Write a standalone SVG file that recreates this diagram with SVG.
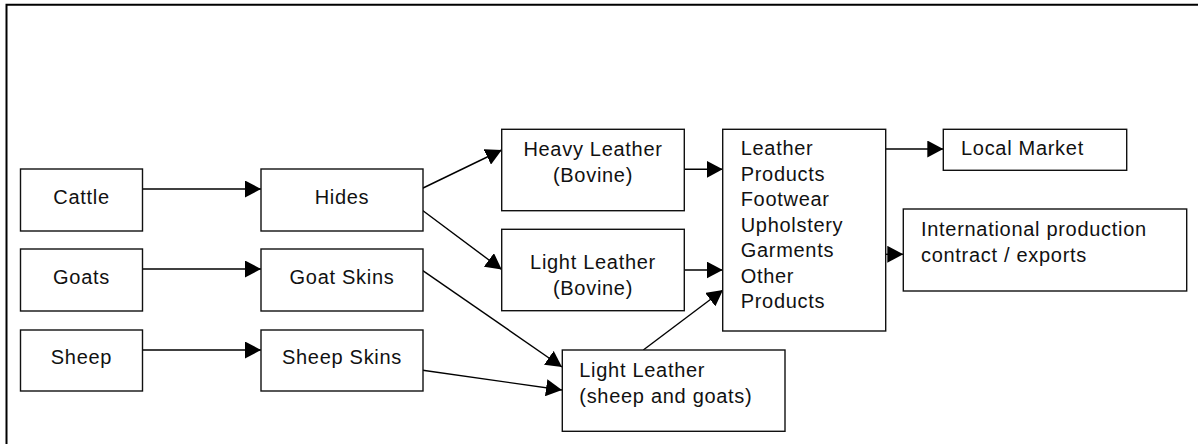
<svg xmlns="http://www.w3.org/2000/svg" width="1198" height="444" viewBox="0 0 1198 444">
<defs>
<marker id="ah" markerUnits="userSpaceOnUse" markerWidth="17" markerHeight="17" refX="16" refY="8.5" orient="auto" viewBox="0 0 17 17">
<path d="M0,0 L16,8.5 L0,17 z" fill="#000"/>
</marker>
<style>
.box{fill:#fff;stroke:#111;stroke-width:1.4}
.t{font-family:"Liberation Sans",Arial,sans-serif;font-size:20px;fill:#111;letter-spacing:0.7px}
.c{text-anchor:middle}
.ln{fill:none;stroke:#000;stroke-width:1.4;marker-end:url(#ah)}
</style>
</defs>
<rect width="1198" height="444" fill="#fff"/>
<path d="M6.5,444 V4.8 H1198" fill="none" stroke="#000" stroke-width="2"/>

<g id="connectors">
<line class="ln" x1="140" y1="189" x2="261" y2="189"/>
<line class="ln" x1="140" y1="269" x2="261" y2="269"/>
<line class="ln" x1="140" y1="350" x2="261" y2="350"/>
<line class="ln" x1="421" y1="189" x2="501.7" y2="150"/>
<line class="ln" x1="421" y1="209.3" x2="501.7" y2="269.5"/>
<line class="ln" x1="421" y1="269.3" x2="562" y2="367"/>
<line class="ln" x1="421" y1="370" x2="562" y2="390"/>
<line class="ln" x1="684" y1="169.3" x2="722.7" y2="169.3"/>
<line class="ln" x1="684" y1="270" x2="722.7" y2="270"/>
<line class="ln" x1="643.3" y1="350" x2="723" y2="290"/>
<line class="ln" x1="885.7" y1="149" x2="943.3" y2="149"/>
<line class="ln" x1="884" y1="254.3" x2="903.3" y2="254.3"/>
</g>

<g id="cattle"><rect class="box" x="20.5" y="169" width="122" height="62"/><text class="t c" x="81.5" y="204">Cattle</text></g>
<g id="goats"><rect class="box" x="20.5" y="249" width="122" height="62"/><text class="t c" x="81.5" y="284">Goats</text></g>
<g id="sheep"><rect class="box" x="20.5" y="330" width="122" height="61"/><text class="t c" x="81.5" y="364">Sheep</text></g>

<g id="hides"><rect class="box" x="261" y="169" width="162" height="62"/><text class="t c" x="342" y="204">Hides</text></g>
<g id="goat-skins"><rect class="box" x="261" y="249" width="162" height="62"/><text class="t c" x="342" y="284">Goat Skins</text></g>
<g id="sheep-skins"><rect class="box" x="261" y="330" width="162" height="61"/><text class="t c" x="342" y="364">Sheep Skins</text></g>

<g id="heavy-leather"><rect class="box" x="501.7" y="129.3" width="182.6" height="81.4"/><text class="t c" x="593" y="155.5">Heavy Leather</text><text class="t c" x="593" y="181.5">(Bovine)</text></g>
<g id="light-leather-bovine"><rect class="box" x="501.7" y="229.3" width="182.6" height="81.4"/><text class="t c" x="593" y="269">Light Leather</text><text class="t c" x="593" y="295">(Bovine)</text></g>
<g id="light-leather-sheep"><rect class="box" x="562.3" y="350" width="222.7" height="81.3"/><text class="t" x="579.3" y="376.7">Light Leather</text><text class="t" x="579.3" y="403.3">(sheep and goats)</text></g>

<g id="leather-products"><rect class="box" x="722.7" y="129.3" width="163" height="201.7"/>
<text class="t" x="740.7" y="155">Leather</text>
<text class="t" x="740.7" y="180.5">Products</text>
<text class="t" x="740.7" y="206">Footwear</text>
<text class="t" x="740.7" y="231.5">Upholstery</text>
<text class="t" x="740.7" y="257">Garments</text>
<text class="t" x="740.7" y="282.5">Other</text>
<text class="t" x="740.7" y="308">Products</text>
</g>

<g id="local-market"><rect class="box" x="943.3" y="129.3" width="183.4" height="41"/><text class="t" x="961" y="155">Local Market</text></g>
<g id="international"><rect class="box" x="903.3" y="209" width="283.4" height="82"/><text class="t" x="921" y="236">International production</text><text class="t" x="921" y="261.7">contract / exports</text></g>
</svg>
